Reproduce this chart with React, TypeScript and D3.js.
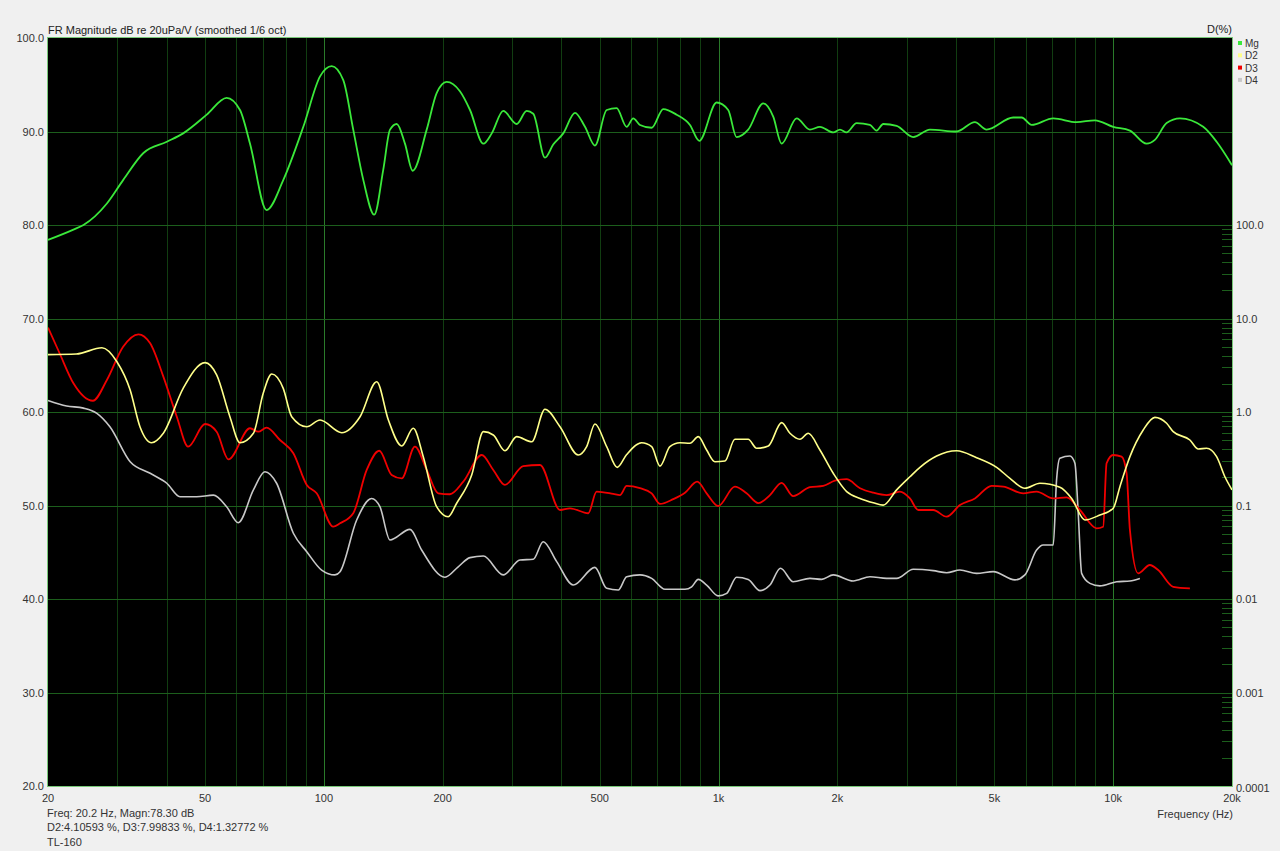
import React from "react";
import * as d3 from "d3";

// ---------- DATA ----------
const magFreq = [20, 23.2, 24.6, 28.2, 31.0, 34.9, 40.0, 44.0, 50.5, 56.7, 61.3, 65.0, 71.6, 78.9, 88.7, 97.8, 104.7, 112, 118.7, 125.9, 134.2, 141.4, 147.1, 153, 160.5, 167.9, 182.2, 193.1, 204.7, 221.2, 234.6, 253.6, 266.3, 284.8, 308, 326.5, 339.3, 363.3, 381.2, 404.2, 432.8, 458.8, 486.3, 520.7, 551.8, 585.1, 608, 632.4, 677, 724.6, 783, 846.5, 893.6, 989, 1058, 1111, 1189, 1298, 1376, 1445, 1577, 1704, 1807, 1953, 2031, 2110, 2238, 2419, 2515, 2614, 2827, 3114, 3433, 4011, 4463, 4777, 5580, 5862, 6214, 7048, 8080, 8989, 10000, 11025, 12150, 12752, 13658, 14758, 16907, 18284, 20000];
const magDb = [78.4, 79.5, 80.0, 82.3, 84.8, 87.7, 88.9, 89.8, 91.8, 93.6, 92.3, 88.7, 81.6, 84.8, 90.5, 95.9, 97.0, 95.5, 90.2, 84.8, 81.1, 85.9, 90.2, 90.8, 88.7, 85.8, 90.2, 94.1, 95.3, 94.3, 92.3, 88.7, 89.8, 92.2, 90.8, 92.2, 91.9, 87.2, 88.6, 89.8, 92.0, 90.5, 88.5, 92.3, 92.5, 90.5, 91.4, 90.7, 90.4, 92.4, 91.8, 90.7, 89.0, 93.1, 92.3, 89.4, 90.2, 93.0, 91.6, 88.7, 91.4, 90.2, 90.5, 89.9, 90.2, 89.9, 90.9, 90.7, 90.1, 90.8, 90.6, 89.4, 90.2, 90.0, 91.0, 90.2, 91.5, 91.5, 90.7, 91.4, 91.0, 91.2, 90.5, 90.1, 88.7, 89.1, 90.9, 91.4, 90.5, 88.9, 86.4];

const d2Freq = [20, 23.6, 27.4, 29.9, 32.3, 34.2, 36.6, 39.2, 44.0, 50.0, 53.5, 57.8, 61.3, 66.3, 70.2, 73.8, 78.9, 82.9, 90.5, 97.8, 111, 123.5, 136.1, 145.7, 157.5, 168.5, 178.6, 193.1, 206.6, 217, 236.9, 253.6, 268.7, 287.6, 308, 336.3, 363.3, 396.6, 441.2, 463.3, 486.3, 520.7, 553.8, 585.1, 638.4, 677, 710.6, 753, 798.5, 846.5, 888.5, 933, 979, 1038, 1100, 1189, 1249, 1337, 1445, 1517, 1608, 1688, 1807, 1953, 2112, 2283, 2466, 2614, 2827, 3055, 3239, 3570, 4011, 4508, 5066, 5475, 5975, 6522, 7328, 7848, 8481, 9254, 10000, 10400, 11025, 11914, 12752, 13658, 14193, 15644, 16421, 17246, 18284, 19188, 20000];
const d2Pct = [4.11, 4.17, 4.87, 3.45, 1.72, 0.696, 0.469, 0.592, 1.79, 3.37, 2.49, 0.891, 0.469, 0.592, 1.585, 2.55, 1.79, 0.891, 0.696, 0.821, 0.601, 0.891, 2.11, 0.821, 0.433, 0.670, 0.333, 0.0971, 0.0759, 0.1057, 0.212, 0.616, 0.568, 0.385, 0.545, 0.481, 1.07, 0.696, 0.347, 0.426, 0.744, 0.426, 0.256, 0.351, 0.469, 0.426, 0.264, 0.426, 0.469, 0.463, 0.545, 0.392, 0.294, 0.299, 0.511, 0.511, 0.409, 0.433, 0.769, 0.592, 0.511, 0.592, 0.392, 0.221, 0.141, 0.119, 0.107, 0.101, 0.147, 0.203, 0.256, 0.338, 0.385, 0.325, 0.256, 0.195, 0.153, 0.173, 0.157, 0.119, 0.070, 0.0791, 0.0933, 0.159, 0.333, 0.642, 0.877, 0.757, 0.616, 0.502, 0.402, 0.409, 0.333, 0.203, 0.147];

const d3Freq = [20, 21.4, 23.2, 26.0, 28.2, 31.0, 33.9, 36.3, 39.2, 42.4, 45.3, 50.0, 53.5, 57.3, 65.0, 68.2, 71.6, 77.4, 83.7, 90.5, 95.9, 105.6, 109.9, 118.7, 128.4, 138.2, 148.5, 157.5, 170.1, 182.2, 194.9, 208.6, 225.6, 251.2, 268.7, 287.6, 320, 352.8, 396.6, 420.3, 467.6, 491, 541, 562.6, 585.1, 632.4, 677, 710.6, 767.7, 822.2, 883.1, 933, 998, 1100, 1178, 1261, 1350, 1445, 1546, 1704, 1842, 1972, 2110, 2283, 2466, 2667, 2882, 3055, 3206, 3500, 3785, 4090, 4463, 4920, 5266, 5916, 6396, 7048, 7618, 8234, 9076, 9432, 9622, 10000, 10502, 10814, 11025, 11570, 12386, 13002, 14193, 15644];
const d3Pct = [8.0, 4.25, 2.03, 1.32, 2.20, 4.99, 6.78, 5.43, 2.39, 0.891, 0.426, 0.744, 0.616, 0.312, 0.670, 0.616, 0.680, 0.502, 0.362, 0.166, 0.135, 0.0593, 0.0645, 0.0826, 0.240, 0.385, 0.212, 0.195, 0.426, 0.240, 0.135, 0.132, 0.180, 0.347, 0.240, 0.166, 0.264, 0.271, 0.0895, 0.0933, 0.0826, 0.141, 0.133, 0.129, 0.162, 0.153, 0.135, 0.104, 0.117, 0.137, 0.180, 0.135, 0.0988, 0.159, 0.135, 0.106, 0.129, 0.175, 0.126, 0.157, 0.162, 0.184, 0.191, 0.153, 0.137, 0.129, 0.141, 0.119, 0.0895, 0.0895, 0.0759, 0.101, 0.119, 0.162, 0.159, 0.135, 0.141, 0.119, 0.122, 0.0895, 0.0570, 0.0593, 0.283, 0.347, 0.333, 0.221, 0.0547, 0.0188, 0.0231, 0.0204, 0.0135, 0.0130];

const d4Freq = [20, 22.3, 24.6, 26.6, 28.7, 32.3, 36.3, 40.0, 43.2, 47.6, 52.5, 56.7, 60.7, 66.3, 70.9, 75.9, 83.7, 90.5, 98.7, 106.7, 109.9, 121.1, 132.1, 138.7, 147.1, 165.3, 176.9, 202.7, 219, 234.6, 253.6, 284.8, 314, 339.3, 359.6, 389, 428.4, 486.3, 520.7, 557.2, 585.1, 632.4, 677, 731.6, 822.2, 854.8, 888.5, 933, 998, 1049, 1111, 1189, 1274, 1350, 1436, 1546, 1704, 1825, 1953, 2194, 2419, 2667, 2827, 3114, 3500, 3785, 4090, 4508, 4966, 5635, 5975, 6396, 6647, 7048, 7186, 7328, 7770, 7998, 8155, 8318, 8730, 9254, 10209, 11025, 11686];
const d4Pct = [1.33, 1.16, 1.10, 0.968, 0.696, 0.294, 0.221, 0.173, 0.124, 0.124, 0.129, 0.0971, 0.0655, 0.147, 0.230, 0.173, 0.0505, 0.0321, 0.0204, 0.0181, 0.0196, 0.0700, 0.119, 0.0971, 0.0428, 0.0556, 0.0334, 0.0171, 0.0221, 0.0277, 0.0288, 0.0181, 0.0261, 0.0266, 0.0410, 0.0251, 0.0141, 0.0218, 0.0130, 0.0125, 0.0173, 0.0181, 0.0166, 0.0127, 0.0127, 0.0135, 0.0162, 0.0141, 0.0108, 0.0115, 0.0171, 0.0162, 0.0123, 0.0141, 0.0213, 0.0153, 0.0166, 0.0162, 0.0181, 0.0156, 0.0173, 0.0166, 0.0166, 0.0208, 0.0201, 0.0191, 0.0204, 0.0188, 0.0196, 0.0160, 0.0181, 0.0334, 0.0378, 0.0378, 0.187, 0.320, 0.338, 0.283, 0.0826, 0.0188, 0.0147, 0.0138, 0.0153, 0.0156, 0.0166];

const leftTicks = [20, 30, 40, 50, 60, 70, 80, 90, 100];
const rightTicks = [0.0001, 0.001, 0.01, 0.1, 1, 10, 100];
const rightTickLabels = ["0.0001", "0.001", "0.01", "0.1", "1.0", "10.0", "100.0"];
const xTicks = [20, 50, 100, 200, 500, 1000, 2000, 5000, 10000, 20000];
const xTickLabels = ["20", "50", "100", "200", "500", "1k", "2k", "5k", "10k", "20k"];
const legendNames = ["Mg", "D2", "D3", "D4"];

const title = "FR Magnitude dB re 20uPa/V (smoothed 1/6 oct)";
const infoLines = ["Freq: 20.2 Hz, Magn:78.30 dB", "D2:4.10593 %, D3:7.99833 %, D4:1.32772 %", "TL-160"];

// ---------- STYLE ----------
const COL_MG = "#3ae83a";
const COL_D2 = "#ffff8a";
const COL_D3 = "#f00000";
const COL_D4 = "#c8c8c8";
const FONT = "'Liberation Sans', Arial, sans-serif";

export default function App() {
  const W = 1280, H = 851;
  const L = 48, R = 1232, T = 38, B = 786;
  const x = d3.scaleLog().domain([20, 20000]).range([L, R]);
  const yL = d3.scaleLinear().domain([20, 100]).range([B, T]);
  const yR = d3.scaleLog().domain([0.0001, 100]).range([B, yL(80)]);

  const lineDb = d3.line<number>()
    .x((_, i) => x(magFreq[i]))
    .y((d) => yL(d))
    .curve(d3.curveMonotoneX);
  const mkPct = (freqs: number[]) =>
    d3.line<number>()
      .x((_, i) => x(freqs[i]))
      .y((d) => yR(d))
      .curve(d3.curveMonotoneX);

  const vGrid: { f: number; major: boolean }[] = [];
  for (const dec of [10, 100, 1000, 10000]) {
    for (let k = 1; k <= 9; k++) {
      const f = dec * k;
      if (f > 20 && f < 20000) vGrid.push({ f, major: k === 1 });
    }
  }
  const rMinor: number[] = [];
  for (const dec of [0.0001, 0.001, 0.01, 0.1, 1, 10]) {
    for (let k = 2; k <= 9; k++) rMinor.push(dec * k);
  }

  const legendColors = [COL_MG, COL_D2, COL_D3, COL_D4];

  return (
    <svg width={W} height={H} style={{ position: "absolute", left: 0, top: 0, display: "block" }} fontFamily={FONT}>
      <rect x={0} y={0} width={W} height={H} fill="#f0f0f0" />
      <rect x={L} y={T} width={R - L} height={B - T} fill="#000" />
      {vGrid.map((g, i) => (
        <line key={"v" + i} x1={Math.round(x(g.f)) + 0.5} x2={Math.round(x(g.f)) + 0.5} y1={T} y2={B}
          stroke={g.major ? "#2a7a2a" : "#113d11"} strokeWidth={1} />
      ))}
      {leftTicks.slice(1, -1).map((v) => (
        <line key={"h" + v} x1={L} x2={R} y1={Math.round(yL(v)) + 0.5} y2={Math.round(yL(v)) + 0.5}
          stroke="#1c5e1c" strokeWidth={1} />
      ))}
      {rMinor.map((v, i) => (
        <line key={"rm" + i} x1={R - 10} x2={R} y1={Math.round(yR(v)) + 0.5} y2={Math.round(yR(v)) + 0.5}
          stroke="#1c5e1c" strokeWidth={1} />
      ))}
      <path d={mkPct(d4Freq)(d4Pct) || ""} fill="none" stroke={COL_D4} strokeWidth={1.6} />
      <path d={mkPct(d3Freq)(d3Pct) || ""} fill="none" stroke={COL_D3} strokeWidth={1.8} />
      <path d={mkPct(d2Freq)(d2Pct) || ""} fill="none" stroke={COL_D2} strokeWidth={1.6} />
      <path d={lineDb(magDb) || ""} fill="none" stroke={COL_MG} strokeWidth={1.8} />
      <rect x={L - 0.5} y={T - 0.5} width={R - L + 1} height={B - T + 1} fill="none" stroke="#78c878" strokeWidth={1} />

      <text x={L} y={34} fontSize={11} fill="#222">{title}</text>
      <text x={R} y={33} fontSize={11} fill="#222" textAnchor="end">D(%)</text>

      {leftTicks.map((v) => (
        <text key={"lt" + v} x={44} y={yL(v) + 4} fontSize={11} fill="#333" textAnchor="end">{v.toFixed(1)}</text>
      ))}
      {rightTicks.map((v, i) => (
        <text key={"rt" + i} x={R + 4} y={yR(v) + 4 + (i === 0 ? 2 : 0)} fontSize={11} fill="#333">{rightTickLabels[i]}</text>
      ))}
      {xTicks.map((v, i) => (
        <text key={"xt" + i} x={x(v)} y={802} fontSize={11} fill="#333" textAnchor="middle">{xTickLabels[i]}</text>
      ))}
      <text x={R + 1} y={818} fontSize={11} fill="#333" textAnchor="end">Frequency (Hz)</text>

      {infoLines.map((s, i) => (
        <text key={"in" + i} x={47} y={[817, 831, 846][i]} fontSize={11} fill="#333">{s}</text>
      ))}

      {legendNames.map((n, i) => (
        <g key={"lg" + n}>
          <rect x={1238} y={41 + i * 12.3} width={4} height={4} fill={legendColors[i]} />
          <text x={1245} y={47 + i * 12.3} fontSize={10} fill="#333">{n}</text>
        </g>
      ))}
    </svg>
  );
}
